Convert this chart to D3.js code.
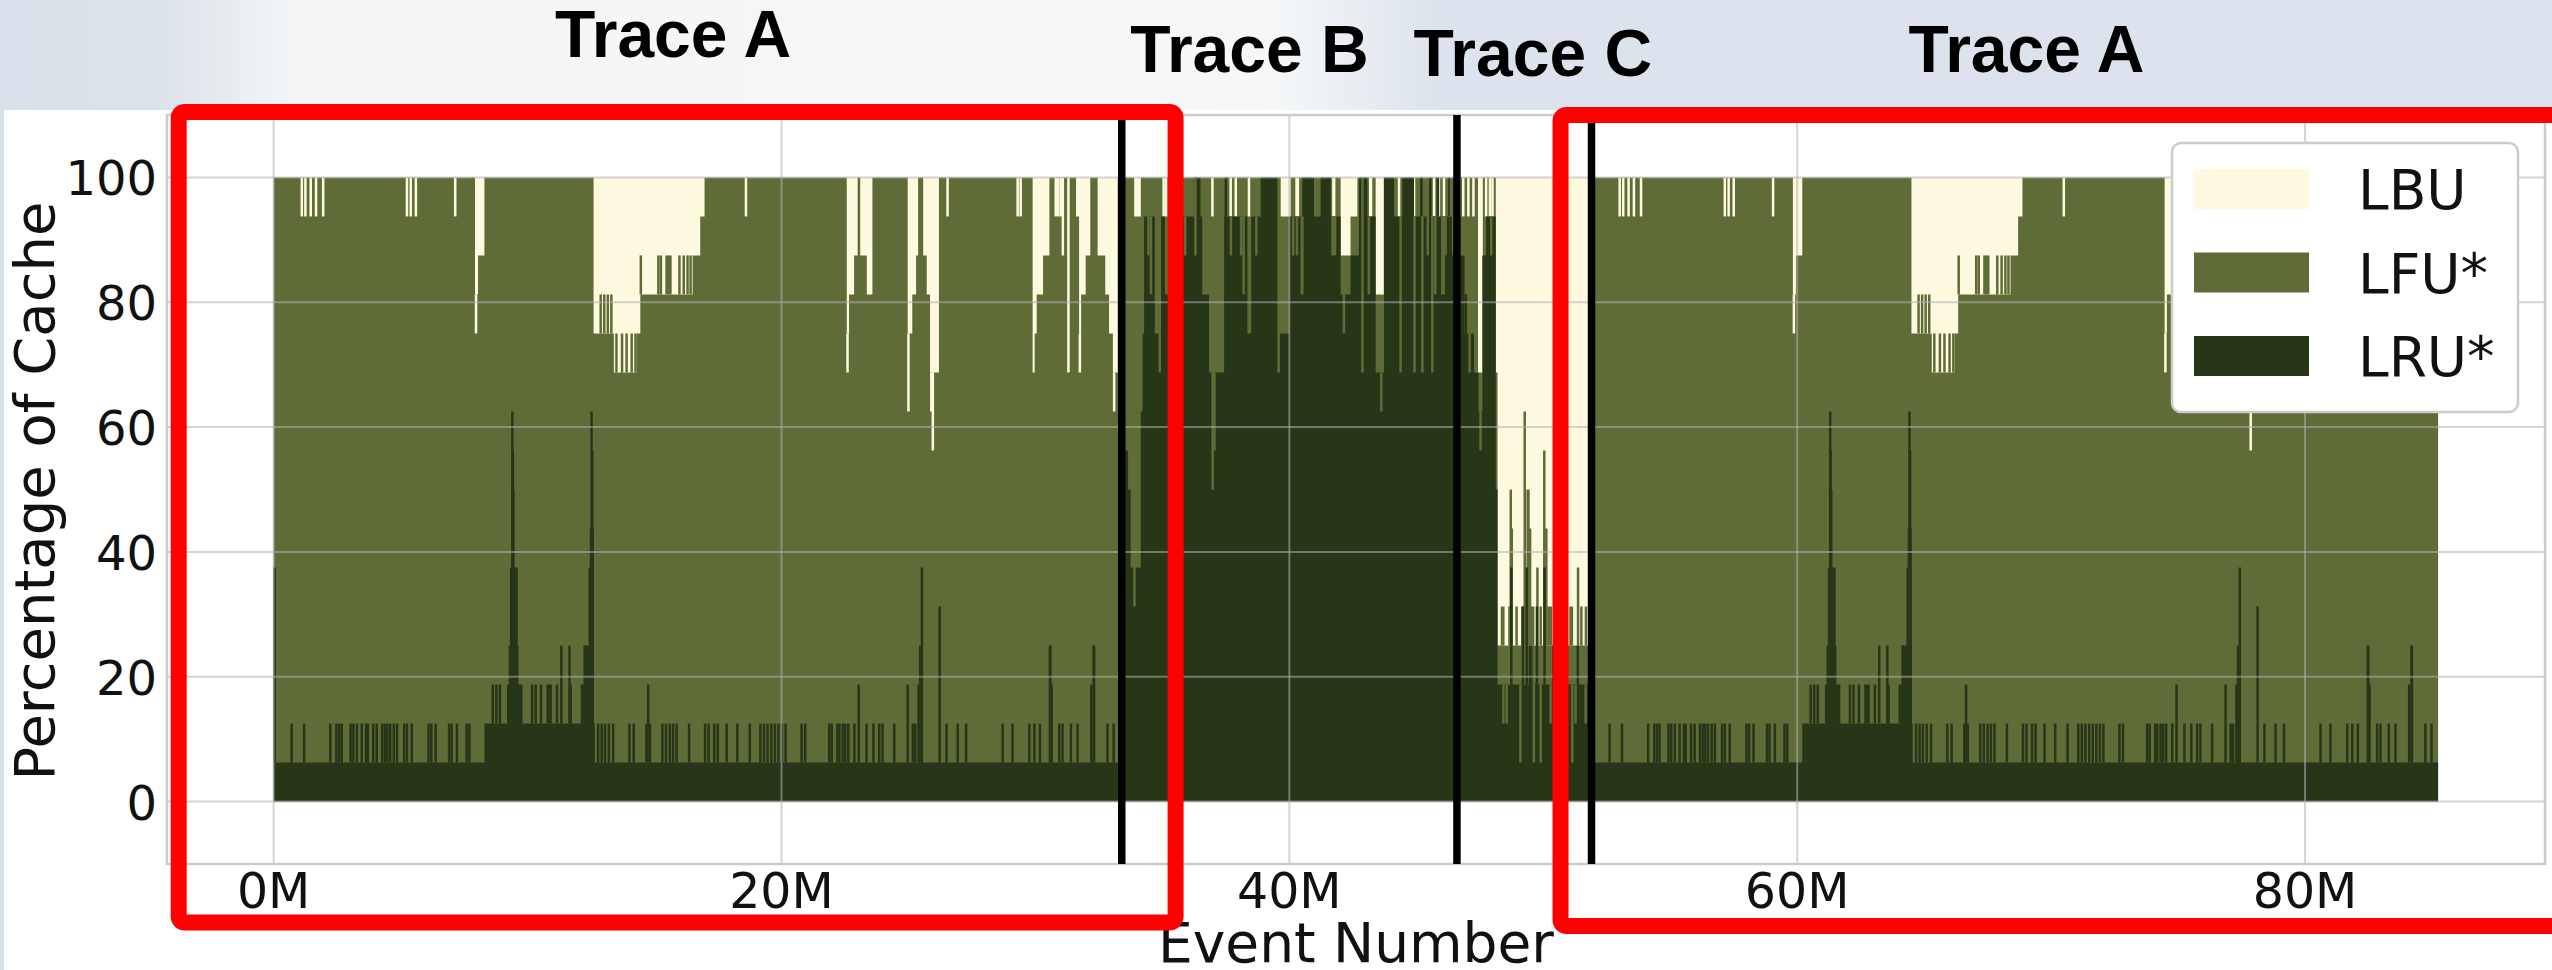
<!DOCTYPE html>
<html>
<head>
<meta charset="utf-8">
<script src="https://cdn.jsdelivr.net/npm/d3@7"></script>
<style>
  html, body { margin: 0; padding: 0; background: #dbe2eb; }
  svg { display: block; }
</style>
</head>
<body>
<svg id="chart" width="2552" height="970"></svg>
<script>
(function () {
  'use strict'

  // ---- data: event number in millions, values in percent of cache ----
  var seriesNames = ['LBU', 'LFU*', 'LRU*']
  var seriesColors = ['#fefae0', '#606c38', '#283618']

  var xTicks = [0, 20, 40, 60, 80]
  var yTicks = [0, 20, 40, 60, 80, 100]

  var traceTitles = ['Trace A', 'Trace B', 'Trace C', 'Trace A']
  var traceTitleAt = [15.73, 38.43, 49.59, 69.03]
  var traceDividers = [33.4, 46.6, 51.9]

  // trace A is replayed twice, its arrays are relative to its start
  var traceAStarts = [0, 51.9]
  var traceAEnds = [33.4, 85.24]

  // steps: [event, value] held until the next entry
  // spikes: [event, value, width] short excursions from the step value
  var aTopSteps = [[0, 100], [7.93, 81.25], [8.05, 87.5], [8.3, 100],
    [12.6, 75], [13.4, 68.75], [14.3, 75], [14.44, 81.25], [16.5, 87.5], [16.8, 93.75], [16.97, 100],
    [22.57, 75], [22.66, 81.25], [22.86, 87.5], [23.0, 100], [23.1, 87.5], [23.36, 81.25], [23.58, 100],
    [24.97, 75], [25.15, 81.25], [25.3, 87.5], [25.38, 100], [25.58, 87.5], [25.72, 81.25], [25.85, 68.75], [26.2, 100],
    [29.89, 68.75], [29.97, 75], [30.05, 81.25], [30.3, 87.5], [30.55, 100],
    [31.6, 93.75], [31.72, 75], [31.8, 81.25], [31.98, 87.5], [32.16, 100],
    [32.45, 87.5], [32.75, 81.25], [32.9, 75], [33.05, 68.75], [33.24, 100]]
  var aTopSpikes = [[1.11, 93.75], [1.25, 93.75], [1.46, 93.75], [1.67, 93.75], [1.95, 93.75],
    [5.25, 93.75], [5.4, 93.75], [5.6, 93.75], [7.15, 93.75], [7.97, 75],
    [12.88, 81.25], [13.02, 81.25], [13.16, 81.25], [13.3, 81.25],
    [13.5, 75], [13.72, 75], [13.9, 75], [14.1, 75], [14.25, 75],
    [14.46, 87.5], [15.15, 87.5], [15.25, 87.5], [15.55, 87.5, 0.25], [15.98, 87.5], [16.15, 87.5], [16.3, 87.5], [16.42, 87.5],
    [18.6, 93.75], [22.6, 68.75], [25.0, 62.5], [25.9, 62.5], [25.96, 56.25], [26.54, 93.75], [29.3, 93.75], [29.42, 93.75],
    [30.8, 93.75], [30.9, 93.75], [31.0, 93.75], [31.08, 87.5], [31.3, 68.75], [31.75, 68.75], [33.1, 62.5]]
  var aLruSteps = [[0, 6.25], [8.3, 12.5], [12.65, 6.25]]
  var aLruSpikes = [[0.04, 37.5],
    [0.71, 12.5], [1.2, 12.5], [2.23, 12.5], [2.47, 12.5], [2.58, 12.5], [2.68, 12.5], [3.03, 12.5], [3.14, 12.5],
    [3.28, 12.5], [3.47, 12.5], [3.64, 12.5], [3.71, 12.5], [3.92, 12.5], [4.06, 12.5], [4.27, 12.5], [4.38, 12.5],
    [4.48, 12.5], [4.59, 12.5], [4.73, 12.5], [4.86, 12.5], [5.14, 12.5], [5.25, 12.5], [5.44, 12.5], [6.1, 12.5],
    [6.21, 12.5], [6.38, 12.5], [6.91, 12.5], [7.01, 12.5], [7.22, 12.5], [7.6, 12.5], [7.71, 12.5],
    [8.63, 18.75], [8.77, 18.75], [8.91, 18.75], [9.75, 18.75], [10.18, 18.75], [10.32, 18.75], [10.53, 18.75],
    [10.85, 18.75, 0.22], [11.16, 18.75], [11.33, 25], [11.65, 25], [11.7, 18.75], [12.14, 18.75], [12.26, 25],
    [9.47, 18.75, 0.56], [9.45, 25, 0.39], [9.46, 37.5, 0.31], [9.43, 50, 0.12], [9.42, 56.25, 0.07], [9.4, 62.5],
    [12.38, 18.75, 0.47], [12.41, 25, 0.4], [12.5, 37.5, 0.2], [12.53, 43.75, 0.16], [12.55, 56.25, 0.08], [12.52, 62.5],
    [12.78, 12.5], [12.92, 12.5], [13.05, 12.5], [13.2, 12.5], [13.37, 12.5], [14.01, 12.5], [14.18, 12.5],
    [14.68, 12.5], [14.75, 18.75], [14.82, 12.5], [15.31, 12.5], [15.45, 12.5], [15.6, 12.5], [15.73, 12.5],
    [15.87, 12.5], [16.36, 12.5], [16.99, 12.5], [17.13, 12.5], [17.35, 12.5], [17.49, 12.5], [17.84, 12.5],
    [18.26, 12.5], [18.75, 12.5], [19.17, 12.5], [19.31, 12.5], [19.45, 12.5], [19.6, 12.5], [19.74, 12.5],
    [19.88, 12.5], [20.02, 12.5], [20.16, 12.5], [20.79, 12.5], [20.93, 12.5],
    [21.88, 12.5], [21.98, 12.5], [22.2, 12.5], [22.28, 12.5], [22.41, 12.5], [22.51, 12.5], [22.63, 12.5],
    [22.87, 12.5], [23.04, 18.75], [23.35, 12.5], [23.62, 12.5], [23.85, 12.5], [23.98, 12.5], [24.44, 12.5],
    [24.97, 18.75], [25.17, 12.5], [25.27, 12.5], [25.45, 18.75, 0.2], [25.47, 25, 0.12], [25.53, 37.5],
    [26.23, 31.25], [26.5, 12.5], [26.94, 12.5], [27.27, 12.5], [28.71, 12.5], [29.1, 12.5], [29.76, 12.5],
    [29.96, 12.5], [30.18, 12.5], [30.58, 25, 0.12], [30.64, 18.75], [30.94, 12.5], [31.07, 12.5], [31.4, 12.5],
    [31.66, 12.5], [32.2, 18.75], [32.3, 25, 0.12], [32.84, 12.5], [33.08, 12.5]]

  var bSpan = [33.4, 46.6]
  var bTopSteps = [[33.4, 100], [33.89, 93.75], [34.15, 100], [39.66, 93.75], [40.05, 100],
    [42.02, 87.5], [42.41, 93.75], [42.68, 100], [43.4, 81.25], [43.72, 100]]
  var bTopSpikes = [[35.05, 93.75], [35.15, 93.75], [35.5, 93.75], [36.97, 93.75, 0.08], [37.69, 93.75],
    [37.89, 93.75], [38.41, 93.75], [40.31, 93.75, 0.15], [41.75, 93.75, 0.13], [43.2, 93.75, 0.13],
    [44.32, 93.75], [44.91, 93.75], [45.7, 93.75], [45.89, 93.75], [46.09, 93.75], [46.3, 93.75]]
  var bLruSteps = [[33.4, 56.25], [33.65, 50], [33.75, 37.5], [33.85, 31.25], [33.95, 37.5], [34.15, 62.5],
    [34.22, 75], [34.28, 93.75], [34.7, 75], [34.95, 93.75], [35.1, 81.25], [35.25, 93.75], [36.24, 100],
    [36.5, 93.75], [36.57, 81.25], [36.84, 68.75], [37.43, 93.75], [38.35, 75], [38.5, 93.75], [38.87, 100],
    [39.53, 75], [40.0, 93.75], [40.51, 100], [40.97, 93.75], [41.23, 100], [41.63, 93.75], [42.02, 81.25],
    [42.41, 87.5], [42.74, 100], [43.07, 93.75], [43.4, 68.75], [43.73, 100], [44.12, 93.75], [44.45, 100],
    [44.91, 93.75]]
  var bLruSpikes = [[34.45, 87.5], [34.55, 81.25], [34.9, 68.75], [35.9, 87.5], [36.3, 87.5, 0.1],
    [36.98, 50], [37.05, 56.25], [37.5, 100, 0.1], [37.7, 87.5], [38.1, 87.5], [38.2, 81.25], [38.7, 87.5],
    [39.58, 68.75], [40.15, 87.5], [40.3, 87.5], [40.5, 81.25, 0.12], [41.75, 87.5, 0.2], [42.15, 75],
    [42.88, 68.75], [43.13, 81.25, 0.1], [43.62, 62.5], [44.38, 68.75], [44.93, 68.75], [45.2, 100],
    [45.24, 68.75], [45.45, 87.5], [45.55, 100], [45.63, 68.75], [45.75, 81.25], [45.85, 100, 0.1],
    [46.05, 81.25, 0.15], [46.15, 87.5, 0.1], [46.3, 100], [46.45, 87.5]]

  var cSpan = [46.6, 51.9]
  var cTopSteps = [[46.6, 93.75], [46.75, 100], [47.43, 68.75], [47.62, 100], [48.13, 68.75], [48.2, 25]]
  var cTopSpikes = [[46.85, 93.75], [47.05, 93.75], [47.25, 93.75], [47.75, 93.75], [47.9, 93.75], [48.0, 93.75],
    [48.4, 31.25, 0.15], [48.68, 31.25, 0.12], [48.95, 31.25, 0.1], [49.2, 31.25, 0.15], [49.55, 31.25, 0.2],
    [49.9, 31.25, 0.1], [50.25, 31.25, 0.2], [50.55, 31.25, 0.1], [50.8, 31.25, 0.15], [51.1, 31.25, 0.15],
    [51.5, 31.25, 0.1], [51.68, 31.25, 0.08],
    [48.72, 50], [48.76, 43.75], [49.27, 62.5], [49.4, 50, 0.13], [49.48, 43.75], [49.77, 37.5],
    [50.04, 56.25], [50.12, 43.75], [51.37, 37.5]]
  var cLruSteps = [[46.6, 87.5], [46.9, 75], [47.27, 68.75], [47.45, 62.5], [47.6, 87.5], [47.75, 93.75], [48.13, 18.75]]
  var cLruSpikes = [[46.95, 81.25], [47.1, 68.75], [47.53, 56.25], [47.95, 87.5], [48.15, 50],
    [48.43, 12.5], [48.56, 12.5], [49.1, 6.25], [49.63, 6.25], [49.9, 6.25], [50.29, 12.5], [51.14, 6.25],
    [51.27, 12.5], [51.67, 12.5],
    [48.74, 37.5, 0.1], [49.2, 31.25], [49.35, 37.5, 0.1], [49.5, 25, 0.15], [49.75, 31.25], [50.05, 37.5, 0.1],
    [50.4, 25], [50.9, 25, 0.15], [51.36, 25]]

  // highlight boxes, in data units: [x0, x1, yTop, yBottom]
  var highlightBoxes = [[-3.74, 35.52, 110.48, -19.37], [50.68, 90.2, 110.0, -19.95]]

  // ---- layout ----
  var width = 2552
  var height = 970
  var plot = { left: 167, right: 2545, top: 115, bottom: 864 }
  var titleBaselines = [57, 72, 76, 72]
  var font = "'DejaVu Sans', sans-serif"

  var x = d3.scaleLinear().domain([-4.2, 89.45]).range([plot.left, plot.right])
  var y = d3.scaleLinear().domain([-10, 110]).range([plot.bottom, plot.top])

  var svg = d3.select('#chart')
  var defs = svg.append('defs')

  var bg = defs.append('linearGradient').attr('id', 'slideBg')
    .attr('x1', 0).attr('x2', 1).attr('y1', 0).attr('y2', 0)
  bg.append('stop').attr('offset', 0).attr('stop-color', '#d8e0e9')
  bg.append('stop').attr('offset', 0.065).attr('stop-color', '#dde3ea')
  bg.append('stop').attr('offset', 0.115).attr('stop-color', '#f3f5f7')
  bg.append('stop').attr('offset', 0.5).attr('stop-color', '#f5f7f8')
  bg.append('stop').attr('offset', 0.565).attr('stop-color', '#dce3ec')
  bg.append('stop').attr('offset', 1).attr('stop-color', '#dbe2eb')

  defs.append('clipPath').attr('id', 'plotClip').append('rect')
    .attr('x', plot.left).attr('y', plot.top)
    .attr('width', plot.right - plot.left).attr('height', plot.bottom - plot.top)

  svg.append('rect').attr('width', width).attr('height', height).attr('fill', 'url(#slideBg)')
  svg.append('rect').attr('x', 4).attr('y', 110).attr('width', width - 4).attr('height', height - 110).attr('fill', '#fff')

  var traces = [
    { top: aTopSteps, topSpikes: aTopSpikes, lru: aLruSteps, lruSpikes: aLruSpikes, shift: traceAStarts[0], end: traceAEnds[0] },
    { top: bTopSteps, topSpikes: bTopSpikes, lru: bLruSteps, lruSpikes: bLruSpikes, shift: 0, end: bSpan[1] },
    { top: cTopSteps, topSpikes: cTopSpikes, lru: cLruSteps, lruSpikes: cLruSpikes, shift: 0, end: cSpan[1] },
    { top: aTopSteps, topSpikes: aTopSpikes, lru: aLruSteps, lruSpikes: aLruSpikes, shift: traceAStarts[1], end: traceAEnds[1] }
  ]

  function valueAt (steps, at) {
    var v = steps[0][1]
    for (var i = 0; i < steps.length && steps[i][0] <= at; i++) v = steps[i][1]
    return v
  }

  function stepPoints (steps, shift, end) {
    var pts = steps.map(function (s) { return [s[0] + shift, s[1]] })
      .filter(function (p) { return p[0] < end })
    pts.push([end, pts[pts.length - 1][1]])
    return pts
  }

  var area = d3.area()
    .x(function (d) { return x(d[0]) })
    .y0(y(0))
    .y1(function (d) { return y(d[1]) })
    .curve(d3.curveStepAfter)

  function drawSpikes (g, spikes, steps, shift, end, color, colorAbove) {
    var rows = spikes.filter(function (s) { return s[0] + shift < end }).map(function (s) {
      return { at: s[0] + shift, v: s[1], w: s[2] || 0.06, base: valueAt(steps, s[0]) }
    })
    g.selectAll(null).data(rows).enter().append('rect')
      .attr('x', function (d) { return x(d.at) - Math.max(x(d.w) - x(0), 2.5) / 2 })
      .attr('width', function (d) { return Math.max(x(d.w) - x(0), 2.5) })
      .attr('y', function (d) { return y(Math.max(d.v, d.base)) })
      .attr('height', function (d) { return Math.abs(y(d.v) - y(d.base)) })
      .attr('fill', function (d) { return d.v > d.base ? color : colorAbove })
  }

  var dataG = svg.append('g').attr('clip-path', 'url(#plotClip)')

  // LBU fills whatever the lower layers leave free up to 100 %
  dataG.append('rect')
    .attr('x', x(0)).attr('width', x(traceAEnds[1]) - x(0))
    .attr('y', y(100)).attr('height', y(0) - y(100))
    .attr('fill', seriesColors[0])

  traces.forEach(function (t) {
    dataG.append('path').datum(stepPoints(t.top, t.shift, t.end)).attr('d', area).attr('fill', seriesColors[1])
    drawSpikes(dataG, t.topSpikes, t.top, t.shift, t.end, seriesColors[1], seriesColors[0])
  })
  traces.forEach(function (t) {
    dataG.append('path').datum(stepPoints(t.lru, t.shift, t.end)).attr('d', area).attr('fill', seriesColors[2])
    drawSpikes(dataG, t.lruSpikes, t.lru, t.shift, t.end, seriesColors[2], seriesColors[1])
  })

  // grid on top, partly see-through
  var grid = svg.append('g').attr('stroke', '#b0b0b0').attr('stroke-opacity', 0.55).attr('stroke-width', 2)
  grid.selectAll(null).data(yTicks).enter().append('line')
    .attr('x1', plot.left).attr('x2', plot.right)
    .attr('y1', function (d) { return y(d) }).attr('y2', function (d) { return y(d) })
  grid.selectAll(null).data(xTicks).enter().append('line')
    .attr('y1', plot.top).attr('y2', plot.bottom)
    .attr('x1', function (d) { return x(d) }).attr('x2', function (d) { return x(d) })

  svg.append('rect')
    .attr('x', plot.left).attr('y', plot.top)
    .attr('width', plot.right - plot.left).attr('height', plot.bottom - plot.top)
    .attr('fill', 'none').attr('stroke', '#cccccc').attr('stroke-width', 2.5)

  // ticks
  svg.append('g').selectAll(null).data(yTicks).enter().append('text')
    .attr('x', 157).attr('y', function (d) { return y(d) + 18 })
    .attr('text-anchor', 'end').attr('font-family', font).attr('font-size', 48).attr('fill', '#111')
    .text(function (d) { return d })
  svg.append('g').selectAll(null).data(xTicks).enter().append('text')
    .attr('x', function (d) { return x(d) }).attr('y', 908)
    .attr('text-anchor', 'middle').attr('font-family', font).attr('font-size', 49).attr('fill', '#111')
    .text(function (d) { return d + 'M' })

  svg.append('text')
    .attr('x', (plot.left + plot.right) / 2).attr('y', 962)
    .attr('text-anchor', 'middle').attr('font-family', font).attr('font-size', 55).attr('fill', '#111')
    .text('Event Number')
  svg.append('text')
    .attr('transform', 'translate(54,491) rotate(-90)')
    .attr('text-anchor', 'middle').attr('font-family', font).attr('font-size', 56).attr('fill', '#111')
    .text('Percentage of Cache')

  // trace boundaries
  svg.append('g').selectAll(null).data(traceDividers).enter().append('line')
    .attr('x1', function (d) { return x(d) }).attr('x2', function (d) { return x(d) })
    .attr('y1', plot.top).attr('y2', plot.bottom)
    .attr('stroke', '#000').attr('stroke-width', 7.5)

  svg.append('g').selectAll(null).data(traceTitles).enter().append('text')
    .attr('x', function (d, i) { return x(traceTitleAt[i]) })
    .attr('y', function (d, i) { return titleBaselines[i] })
    .attr('text-anchor', 'middle')
    .attr('font-family', "'Liberation Sans', Arial, sans-serif").attr('font-weight', 'bold')
    .attr('font-size', 66).attr('fill', '#000')
    .text(function (d) { return d })

  // legend
  var legend = svg.append('g')
  legend.append('rect').attr('x', 2172).attr('y', 143).attr('width', 346).attr('height', 269).attr('rx', 9)
    .attr('fill', '#fff').attr('stroke', '#cccccc').attr('stroke-width', 2.5)
  var rows = legend.selectAll(null).data(seriesNames).enter().append('g')
    .attr('transform', function (d, i) { return 'translate(0,' + (i * 83.5) + ')' })
  rows.append('rect').attr('x', 2194).attr('y', 169).attr('width', 115).attr('height', 40)
    .attr('fill', function (d, i) { return seriesColors[i] })
  rows.append('text').attr('x', 2358).attr('y', 209)
    .attr('font-family', font).attr('font-size', 55).attr('fill', '#111')
    .text(function (d) { return d })

  // red highlight boxes
  svg.append('g').selectAll(null).data(highlightBoxes).enter().append('rect')
    .attr('x', function (d) { return x(d[0]) })
    .attr('width', function (d) { return x(d[1]) - x(d[0]) })
    .attr('y', function (d) { return y(d[2]) })
    .attr('height', function (d) { return y(d[3]) - y(d[2]) })
    .attr('rx', 6)
    .attr('fill', 'none').attr('stroke', '#ff0000').attr('stroke-width', 16)
})()
</script>
</body>
</html>
